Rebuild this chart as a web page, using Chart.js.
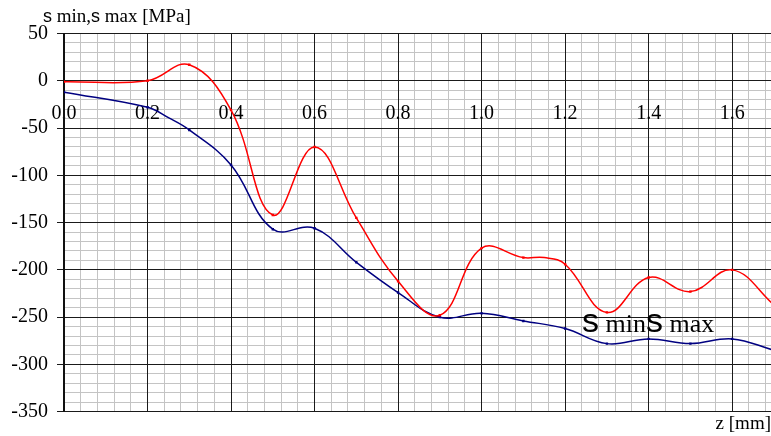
<!DOCTYPE html>
<html><head><meta charset="utf-8">
<script src="https://cdn.jsdelivr.net/npm/chart.js@4"></script>
<style>
html,body{margin:0;padding:0;background:#fff;overflow:hidden}
#wrap{position:relative;width:771px;height:436px}
canvas{position:absolute;left:0;top:0}
.lbl{position:absolute;white-space:pre;color:#000;line-height:1}
.serif{font-family:"Liberation Serif","Times New Roman",serif}
.sans{font-family:"Liberation Sans",Arial,sans-serif}
</style></head><body>
<div id="wrap">
<canvas id="c" width="771" height="436"></canvas>
<div class="lbl" style="left:43px;top:6px"><span class="sans" style="font-size:18px">s</span><span class="serif" style="font-size:19px"> min,</span><span class="sans" style="font-size:18px">s</span><span class="serif" style="font-size:19px"> max [MPa]</span></div>
<div class="lbl" style="left:582px;top:303px"><span class="sans" style="font-size:34px">s</span><span class="serif" style="font-size:26px"> min</span><span class="sans" style="font-size:34px">s</span><span class="serif" style="font-size:26px"> max</span></div>
</div>
<script>
// series: sigma max (red)
const zMax     = [0,  0.2, 0.3, 0.4, 0.5,  0.6, 0.7,  0.8,  0.9,  1.0,  1.1,  1.15, 1.2,  1.3,  1.4,  1.5,  1.6,  1.7];
const sigmaMax = [-1, 0,   17,  -31, -142, -70, -145, -212, -248, -177, -187, -187, -194, -245, -208, -223, -200, -237];
// series: sigma min (blue)
const zMin     = [0,   0.2, 0.25, 0.3, 0.4, 0.5,  0.6,  0.7,  0.8,  0.9,  1.0,  1.1,  1.2,  1.3,  1.4,  1.5,  1.6,  1.7];
const sigmaMin = [-12, -28, -39,  -52, -89, -157, -156, -192, -224, -250, -246, -254, -262, -278, -273, -278, -273, -285];
// tick labels
const xTickValues = [0, 0.2, 0.4, 0.6, 0.8, 1.0, 1.2, 1.4, 1.6];
const xTickLabels = ['0.0','0.2','0.4','0.6','0.8','1.0','1.2','1.4','1.6'];
const yTickValues = [50, 0, -50, -100, -150, -200, -250, -300, -350];
const yTickLabels = ['50','0','-50','-100','-150','-200','-250','-300','-350'];
const xAxisTitle = 'z [mm]';

function findIdx(arr, v, eps){ for(let i=0;i<arr.length;i++){ if(Math.abs(arr[i]-v)<eps) return i; } return -1; }
function isMarked(z){ return Math.abs(z*10 - Math.round(z*10)) < 1e-6; }
const toXY = (xs, ys) => xs.map((x,i)=>({x:x, y:ys[i]}));
const noPad = s => { s.paddingLeft = 0; s.paddingRight = 0; };

const MAJOR = '#1a1a1a', MINOR = '#c4c4c4';
const SERIF = '"Liberation Serif", "Times New Roman", serif';

new Chart(document.getElementById('c'), {
  type: 'line',
  data: { datasets: [
    { label: 's max', data: toXY(zMax, sigmaMax), xAxisID: 'x', yAxisID: 'y',
      borderColor: '#ff0000', backgroundColor: '#ff0000',
      borderWidth: 1.5, tension: 0.4, pointStyle: 'rect',
      pointRadius: c => isMarked(c.raw.x) ? 1.7 : 0, pointBorderWidth: 0 },
    { label: 's min', data: toXY(zMin, sigmaMin), xAxisID: 'x', yAxisID: 'y',
      borderColor: '#000080', backgroundColor: '#000080',
      borderWidth: 1.5, tension: 0.4, pointStyle: 'rect',
      pointRadius: c => isMarked(c.raw.x) ? 1.7 : 0, pointBorderWidth: 0 }
  ]},
  options: {
    responsive: false, animation: false, devicePixelRatio: 1,
    layout: { autoPadding: false, padding: { top: 33.5, left: 0, right: 0, bottom: 0 } },
    plugins: { legend: { display: false }, tooltip: { enabled: false } },
    scales: {
      x: {
        type: 'linear', position: { y: 0 }, min: 0, max: 1.693,
        ticks: { stepSize: 0.04, autoSkip: false, maxRotation: 0, includeBounds: false, padding: 21,
          color: '#000', font: { family: SERIF, size: 20 },
          callback: v => { const i = findIdx(xTickValues, v, 1e-6); return i >= 0 ? xTickLabels[i] : ''; } },
        grid: { drawTicks: false, lineWidth: 1, z: -1,
          color: c => findIdx(xTickValues, c.tick.value, 1e-6) >= 0 ? MAJOR : MINOR },
        border: { display: true, color: MAJOR, width: 1 },
        afterFit: noPad
      },
      xMajor: {
        type: 'linear', position: { y: 0 }, min: 0, max: 1.693,
        ticks: { display: false, stepSize: 0.2, includeBounds: false, autoSkip: false },
        grid: { drawTicks: false, lineWidth: 1, color: MAJOR, z: -0.5 },
        border: { display: false },
        afterFit: noPad
      },
      x2: {
        type: 'linear', position: 'bottom', min: 0, max: 1.693,
        ticks: { display: false, padding: 0 }, grid: { display: false }, border: { display: false },
        title: { display: true, text: xAxisTitle, align: 'end', color: '#000', padding: { top: 0, bottom: 1 },
          font: { family: SERIF, size: 19 } },
        afterFit: s => { s.height = 24.3; s.paddingLeft = 0; s.paddingRight = 0; }
      },
      y: {
        type: 'linear', position: 'left', min: -350, max: 50,
        ticks: { stepSize: 10, autoSkip: false, padding: 9, color: '#000',
          font: { family: SERIF, size: 20 },
          callback: v => { const i = findIdx(yTickValues, v, 1e-6); return i >= 0 ? yTickLabels[i] : ''; } },
        grid: { drawTicks: true, tickLength: 7, lineWidth: 1, z: -1,
          color: c => findIdx(yTickValues, c.tick.value, 1e-6) >= 0 ? MAJOR : MINOR,
          tickColor: c => findIdx(yTickValues, c.tick.value, 1e-6) >= 0 ? MAJOR : 'rgba(0,0,0,0)' },
        border: { display: true, color: '#111', width: 2 },
        afterFit: s => { s.width = 64; }
      }
    }
  }
});
</script>
</body></html>
